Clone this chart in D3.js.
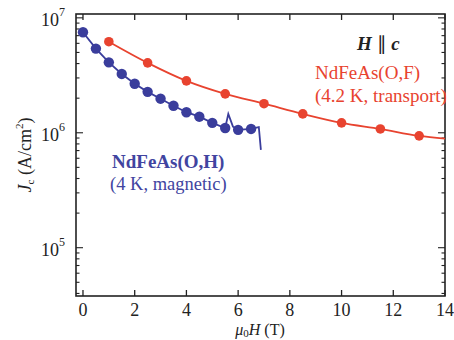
<!DOCTYPE html>
<html>
<head>
<meta charset="utf-8">
<script src="https://cdn.jsdelivr.net/npm/d3@7"></script>
<style>
  body { margin: 0; background: #fff; }
</style>
</head>
<body>
<svg id="chart" width="454" height="340"></svg>
<script>
// NdFeAs(O,H), 4 K magnetic - dots
var blueH  = [0, 0.5, 1, 1.5, 2, 2.5, 3, 3.5, 4, 4.5, 5, 5.5, 6, 6.5];
var blueJc = [7.5e6, 5.4e6, 4.1e6, 3.25e6, 2.67e6, 2.27e6, 1.98e6, 1.72e6, 1.51e6, 1.38e6, 1.22e6, 1.10e6, 1.06e6, 1.08e6];
// measured curve through the dots (with the jump near 5.6 T and the drop at the end)
var blueLineH  = [0, 0.5, 1, 1.5, 2, 2.5, 3, 3.5, 4, 4.5, 5, 5.5, 5.62, 5.8, 6, 6.5, 6.8, 6.88];
var blueLineJc = [7.5e6, 5.4e6, 4.1e6, 3.25e6, 2.67e6, 2.27e6, 1.98e6, 1.72e6, 1.51e6, 1.38e6, 1.22e6, 1.10e6, 1.46e6, 1.13e6, 1.06e6, 1.08e6, 1.12e6, 7.1e5];

// NdFeAs(O,F), 4.2 K transport - dots and fitted line
var redH  = [1, 2.5, 4, 5.5, 7, 8.5, 10, 11.5, 13];
var redJc = [6.2e6, 4.06e6, 2.83e6, 2.18e6, 1.79e6, 1.46e6, 1.22e6, 1.08e6, 9.4e5];
var redFitH  = [1, 2.5, 4, 5.5, 7, 8.5, 10, 11.5, 13, 14];
var redFitJc = [6.2e6, 4.06e6, 2.83e6, 2.18e6, 1.79e6, 1.46e6, 1.22e6, 1.08e6, 9.4e5, 8.9e5];

var xTicks = [0, 2, 4, 6, 8, 10, 12, 14];
var yDecades = [5, 6, 7];

var blue = "#3a3d9c", red = "#e8432f";
var serif = "'Liberation Serif', 'Times New Roman', serif";
var svg = d3.select("#chart");
var L = 76, R = 445, T = 14, B = 296;

var x = d3.scaleLinear().domain([-0.27, 14]).range([L, R]);
var y = d3.scaleLog().domain([3.8e4, 1.08e7]).range([B, T]);

// frame
svg.append("rect").attr("x", L).attr("y", T).attr("width", R - L).attr("height", B - T)
  .attr("fill", "none").attr("stroke", "#222").attr("stroke-width", 1.6);

// x ticks (inward, bottom and top)
var ticksX = svg.append("g").attr("stroke", "#222").attr("stroke-width", 1.3);
xTicks.forEach(function(t){
  ticksX.append("line").attr("x1", x(t)).attr("x2", x(t)).attr("y1", B).attr("y2", B - 6);
  ticksX.append("line").attr("x1", x(t)).attr("x2", x(t)).attr("y1", T).attr("y2", T + 6);
});
svg.append("g").selectAll("text").data(xTicks).enter().append("text")
  .attr("x", function(d){ return x(d); }).attr("y", 316)
  .attr("text-anchor", "middle").attr("font-size", 18).attr("fill", "#222")
  .text(function(d){ return d; });

// y ticks, log major + minor
var yMinor = y.ticks().filter(function(v){ return v >= 3.8e4 && v <= 1.08e7; });
var ticksY = svg.append("g").attr("stroke", "#222").attr("stroke-width", 1.1);
yMinor.forEach(function(v){
  var major = Math.abs(Math.log10(v) - Math.round(Math.log10(v))) < 1e-9;
  var len = major ? 7 : 3.5;
  ticksY.append("line").attr("x1", L).attr("x2", L + len).attr("y1", y(v)).attr("y2", y(v));
  ticksY.append("line").attr("x1", R).attr("x2", R - len).attr("y1", y(v)).attr("y2", y(v));
});
var yl = svg.append("g").selectAll("text").data(yDecades).enter().append("text")
  .attr("x", 65).attr("y", function(d){ return y(Math.pow(10, d)) + 8; })
  .attr("text-anchor", "end").attr("font-size", 18).attr("fill", "#222");
yl.append("tspan").text("10");
yl.append("tspan").attr("dy", -10).attr("font-size", 12).text(function(d){ return d; });

// axis titles
var xt = svg.append("text").attr("x", 260).attr("y", 335).attr("text-anchor", "middle")
  .attr("font-size", 16).attr("fill", "#222");
xt.append("tspan").attr("font-style", "italic").text("μ");
xt.append("tspan").attr("font-size", 11).attr("dy", 2).text("0");
xt.append("tspan").attr("font-style", "italic").attr("dy", -2).text("H");
xt.append("tspan").text(" (T)");

var ytt = svg.append("text").attr("transform", "translate(31,155) rotate(-90)")
  .attr("text-anchor", "middle").attr("font-size", 18).attr("fill", "#222");
ytt.append("tspan").attr("font-style", "italic").text("J");
ytt.append("tspan").attr("font-size", 11).attr("dy", 3).text("c");
ytt.append("tspan").attr("dy", -3).text(" (A/cm");
ytt.append("tspan").attr("font-size", 11).attr("dy", -8).text("2");
ytt.append("tspan").attr("dy", 8).text(")");

// curves
var line = d3.line().x(function(d){ return x(d[0]); }).y(function(d){ return y(d[1]); });
var plot = svg.append("g");
plot.append("path").datum(d3.zip(redFitH, redFitJc))
  .attr("d", line.curve(d3.curveMonotoneX)).attr("fill", "none")
  .attr("stroke", red).attr("stroke-width", 1.8);
plot.append("path").datum(d3.zip(blueLineH, blueLineJc))
  .attr("d", line.curve(d3.curveLinear)).attr("fill", "none")
  .attr("stroke", blue).attr("stroke-width", 1.8);

plot.selectAll("circle.r").data(d3.zip(redH, redJc)).enter().append("circle")
  .attr("class", "r").attr("cx", function(d){ return x(d[0]); }).attr("cy", function(d){ return y(d[1]); })
  .attr("r", 4.8).attr("fill", red);
plot.selectAll("circle.b").data(d3.zip(blueH, blueJc)).enter().append("circle")
  .attr("class", "b").attr("cx", function(d){ return x(d[0]); }).attr("cy", function(d){ return y(d[1]); })
  .attr("r", 5.2).attr("fill", blue);

// annotations
var hc = svg.append("text").attr("x", 357).attr("y", 50).attr("font-size", 19)
  .attr("font-weight", "bold").attr("font-style", "italic").attr("fill", "#222");
hc.append("tspan").text("H");
hc.append("tspan").attr("font-style", "normal").attr("font-weight", "normal").text(" \u2225 ");
hc.append("tspan").text("c");

svg.append("text").attr("x", 315).attr("y", 79).attr("font-size", 19).attr("fill", red).text("NdFeAs(O,F)");
svg.append("text").attr("x", 315).attr("y", 102).attr("font-size", 19).attr("fill", red).text("(4.2 K, transport)");

svg.append("text").attr("x", 112).attr("y", 168).attr("font-size", 19).attr("font-weight", "bold")
  .attr("fill", "#4144a0").text("NdFeAs(O,H)");
svg.append("text").attr("x", 110).attr("y", 190).attr("font-size", 18.5)
  .attr("fill", "#4144a0").text("(4 K, magnetic)");

// serif everywhere
svg.selectAll("text").style("font-family", serif);
</script>
</body>
</html>
